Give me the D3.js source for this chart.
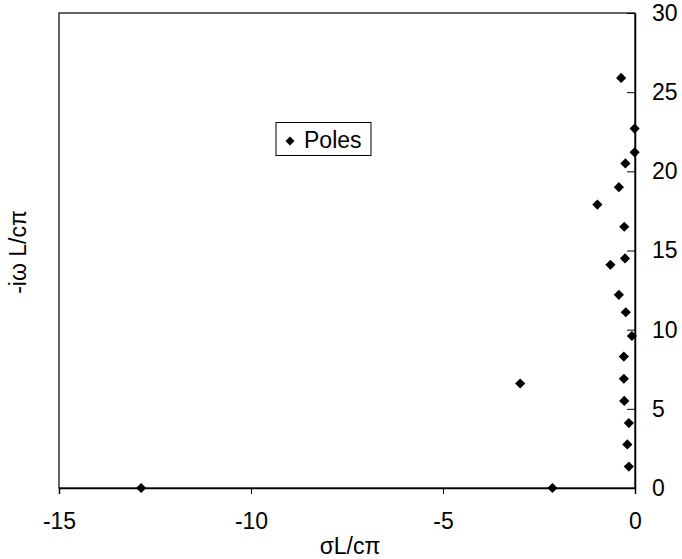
<!DOCTYPE html>
<html><head><meta charset="utf-8">
<script src="https://cdn.jsdelivr.net/npm/d3@7"></script>
<style>body{margin:0;background:#fff;} text{font-family:"Liberation Sans",Arial,sans-serif;}</style>
</head><body>
<svg id="c" width="682" height="559"></svg>
<script>
const sigma = [-0.36,-0.01,-0.01,-0.25,-0.42,-0.98,-0.28,-0.26,-0.64,-0.42,-0.24,-0.08,-0.29,-0.29,-0.28,-0.16,-0.20,-0.16,-2.15,-2.99,-12.86];
const omega = [25.9,22.7,21.2,20.5,19.0,17.9,16.5,14.5,14.1,12.2,11.1,9.6,8.3,6.9,5.5,4.1,2.75,1.35,0,6.6,0];
const xTicks = [-15,-10,-5,0];
const yTicks = [0,5,10,15,20,25,30];
const seriesName = "Poles";

const svg = d3.select("#c");
const L=59, R=635, T=13, B=488;
const FS = 23;
const x = d3.scaleLinear().domain([-15,0]).range([L,R]);
const y = d3.scaleLinear().domain([0,30]).range([B,T]);
const fmt = d => String(d);

// frame
svg.append("rect").attr("x",L).attr("y",T).attr("width",R-L).attr("height",B-T)
  .attr("fill","none").attr("stroke","#000").attr("stroke-width",1.2);

// x axis
const xa = svg.append("g").attr("transform",`translate(0,${B})`)
  .call(d3.axisBottom(x).tickValues(xTicks).tickSize(6).tickPadding(19).tickFormat(fmt));
xa.select(".domain").attr("stroke-width",1.5);
xa.selectAll("text").attr("font-size",FS).attr("fill","#000").attr("font-family","Liberation Sans, Arial, sans-serif");

// y axis on right with inward ticks
const ya = svg.append("g").attr("transform",`translate(${R},0)`)
  .call(d3.axisRight(y).tickValues(yTicks).tickSize(0).tickPadding(17).tickFormat(fmt));
ya.select(".domain").attr("stroke-width",1.5);
ya.selectAll("text").attr("font-size",FS).attr("fill","#000").attr("font-family","Liberation Sans, Arial, sans-serif");
ya.selectAll(".tick").append("line").attr("x1",0).attr("x2",-8).attr("stroke","#000");

// points
const data = sigma.map((s,i)=>({s, w:omega[i]}));
const sym = d3.symbol().type(d3.symbolSquare).size(52);
svg.append("g").selectAll("path").data(data).join("path")
  .attr("d",sym)
  .attr("transform",d=>`translate(${x(d.s)},${y(d.w)}) rotate(45)`)
  .attr("fill","#000");

// legend
const lg = svg.append("g");
lg.append("rect").attr("x",276).attr("y",122.5).attr("width",95).attr("height",33)
  .attr("fill","#fff").attr("stroke","#000").attr("stroke-width",1);
lg.append("path").attr("d",d3.symbol().type(d3.symbolSquare).size(40)).attr("transform","translate(290,141) rotate(45)").attr("fill","#000");
lg.append("text").attr("x",304).attr("y",148).attr("font-size",FS).text(seriesName);

// titles
svg.append("text").attr("x",350).attr("y",554).attr("text-anchor","middle").attr("font-size",FS).text("σL/cπ");
svg.append("text").attr("transform","translate(26,252) rotate(-90)").attr("text-anchor","middle").attr("font-size",FS).text("-iω L/cπ");
</script>
</body></html>
